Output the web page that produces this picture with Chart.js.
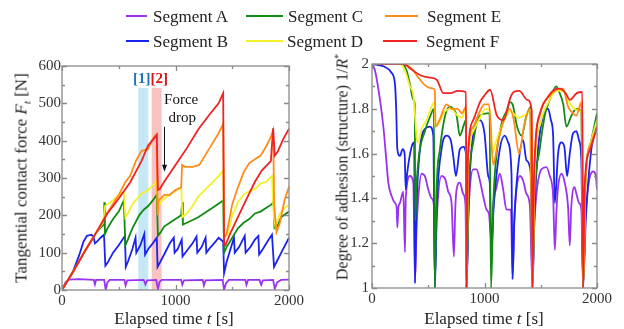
<!DOCTYPE html>
<html><head><meta charset="utf-8">
<script src="https://cdn.jsdelivr.net/npm/chart.js@4/dist/chart.umd.min.js"></script>
<style>
html,body{margin:0;padding:0;background:#fff;width:624px;height:329px;overflow:hidden;font-family:"Liberation Serif","Times New Roman",serif;color:#222}
#wrap{position:relative;width:624px;height:329px}
canvas{position:absolute;top:0}
#cL{left:0}
#cR{left:310px}
.lt{position:absolute;font-size:17px;line-height:17px;white-space:nowrap;transform:translateY(-50%)}
.ln{position:absolute;height:2px}
.at{position:absolute;font-size:17px;line-height:17px;white-space:nowrap;transform:translate(-50%,-50%)}
.rot{transform:translate(-50%,-50%) rotate(-90deg)}
sub,sup{line-height:0}
</style></head>
<body><div id="wrap">
<canvas id="cL" width="310" height="329"></canvas>
<canvas id="cR" width="314" height="329"></canvas>
<div class="at rot" style="left:21px;top:178px">Tangential contact force <i>F</i><sub style="font-size:11px"><i>t</i></sub> [N]</div>
<div class="at rot" style="left:342px;top:167px;font-size:16px">Degree of adhesion (structure) 1/<i>R</i><sup style="font-size:10px">*</sup></div>
<div class="at" style="left:174px;top:318px">Elapsed time <i>t</i> [s]</div>
<div class="at" style="left:484px;top:318px">Elapsed time <i>t</i> [s]</div>
</div>
<script>
// ---------- data ----------
const segmentNames = ['Segment A','Segment B','Segment C','Segment D','Segment E','Segment F'];
const segmentColors = ['#9a33ee','#1a22ee','#138a13','#f2f22a','#ff8c1a','#f02222'];
const xTicks = [0, 1000, 2000];
const forceTicks = [0, 100, 200, 300, 400, 500, 600];
const adhesionTicks = [1, 1.2, 1.4, 1.6, 1.8, 2];

// Tangential contact force F_t [N] vs time t [s]
const segA_force = [[0,0],[30,20],[60,28],[150,29],[280,27],[290,15],[300,27],[372,27],[385,0],[400,20],[420,27],[550,27],[560,12],[575,26],[720,27],[735,15],[750,26],[830,27],[845,3],[860,22],[880,27],[1050,27],[1060,14],[1075,26],[1240,27],[1250,12],[1265,26],[1415,27],[1428,0],[1445,18],[1470,27],[1615,27],[1625,14],[1640,27],[1740,27],[1755,14],[1770,26],[1860,27],[1875,3],[1895,20],[1930,27],[2000,28]];
const segB_force = [[0,0],[100,52],[150,92],[190,130],[220,145],[260,148],[280,140],[290,125],[310,130],[340,140],[370,148],[382,65],[400,72],[450,100],[500,120],[555,145],[562,62],[580,75],[620,110],[648,140],[655,100],[690,120],[725,150],[732,95],[760,110],[800,125],[835,140],[842,62],[860,72],[900,95],[950,125],[985,140],[992,100],[1020,110],[1055,135],[1062,90],[1100,105],[1150,125],[1185,143],[1192,100],[1230,115],[1265,140],[1272,100],[1310,115],[1340,125],[1380,140],[1420,130],[1428,45],[1450,75],[1490,115],[1515,140],[1522,100],[1560,115],[1610,145],[1618,100],[1660,115],[1700,135],[1730,145],[1737,95],[1770,110],[1810,130],[1850,148],[1868,62],[1890,75],[1940,105],[2000,140]];
const segC_force = [[0,0],[100,50],[200,103],[300,153],[350,170],[370,175],[373,235],[378,150],[400,165],[450,190],[500,210],[545,240],[558,120],[580,135],[620,165],[680,200],[720,215],[760,225],[800,240],[835,255],[845,145],[870,155],[900,170],[950,180],[1000,190],[1050,200],[1058,235],[1065,175],[1100,180],[1200,195],[1300,215],[1350,225],[1420,240],[1428,100],[1450,115],[1500,140],[1550,165],[1600,180],[1650,190],[1700,205],[1750,210],[1800,220],[1850,230],[1865,240],[1872,165],[1890,165],[1930,195],[2000,210]];
const segD_force = [[0,0],[100,50],[200,103],[300,153],[360,180],[380,225],[400,230],[450,240],[500,255],[545,262],[558,195],[580,205],[620,230],[700,258],[760,268],[800,280],[835,292],[845,220],[870,235],[900,245],[1000,265],[1050,275],[1062,195],[1100,205],[1150,225],[1200,250],[1300,280],[1380,305],[1420,320],[1428,140],[1460,150],[1500,200],[1550,235],[1600,255],[1650,265],[1700,270],[1750,285],[1800,290],[1850,305],[1865,200],[1880,170],[1920,205],[1960,220],[2000,228]];
const segE_force = [[0,0],[100,50],[200,103],[300,153],[400,207],[500,255],[560,290],[600,305],[650,345],[700,372],[760,378],[800,405],[835,418],[842,200],[850,240],[870,245],[900,255],[950,255],[1000,268],[1050,275],[1058,335],[1080,330],[1150,330],[1210,335],[1260,360],[1320,390],[1380,420],[1420,445],[1428,140],[1450,150],[1500,230],[1550,275],[1600,315],[1650,340],[1700,350],[1750,360],[1800,385],[1840,410],[1860,428],[1870,225],[1890,155],[1920,180],[1960,240],[2000,277]];
const segF_force = [[0,0],[100,50],[200,103],[300,153],[400,205],[500,245],[600,288],[700,345],[760,388],[800,402],[835,415],[845,268],[860,270],[900,290],[1000,335],[1100,380],[1200,430],[1300,470],[1380,500],[1420,527],[1428,125],[1440,120],[1480,150],[1550,195],[1620,240],[1700,290],[1760,320],[1840,345],[1860,433],[1875,360],[1900,370],[1950,405],[2000,432]];

// Degree of adhesion (structure) 1/R* vs time t [s]
const segA_adh = [[0,2],[27,1.97],[71,1.84],[101,1.72],[124,1.59],[145,1.47],[175,1.41],[204,1.38],[219,1.36],[225,1.27],[235,1.36],[249,1.38],[278,1.43],[293,1.16],[300,1.40],[337,1.50],[367,1.47],[382,1.03],[395,1.25],[411,1.40],[441,1.51],[470,1.50],[500,1.44],[530,1.40],[550,1.37],[559,1.04],[575,1.3],[618,1.50],[648,1.49],[678,1.43],[707,1.38],[728,1.14],[740,1.35],[752,1.44],[781,1.47],[811,1.42],[831,1.37],[840,1.01],[855,1.3],[900,1.53],[929,1.53],[959,1.48],[988,1.41],[1018,1.35],[1040,1.33],[1062,1.2],[1080,1.38],[1107,1.45],[1136,1.51],[1166,1.44],[1195,1.35],[1235,1.35],[1249,1.04],[1265,1.3],[1284,1.44],[1314,1.50],[1343,1.48],[1373,1.42],[1403,1.37],[1426,1.01],[1440,1.25],[1462,1.42],[1506,1.53],[1550,1.54],[1580,1.50],[1610,1.41],[1625,1.17],[1640,1.35],[1654,1.45],[1684,1.51],[1713,1.47],[1743,1.36],[1758,1.19],[1770,1.35],[1800,1.45],[1817,1.42],[1840,1.38],[1861,1.35],[1876,1.01],[1895,1.3],[1930,1.48],[1965,1.52],[1990,1.50],[2000,1.44]];
const segB_adh = [[0,2],[100,1.99],[175,1.96],[204,1.91],[215,1.80],[225,1.62],[249,1.59],[272,1.62],[290,1.60],[300,1.44],[310,1.50],[352,1.63],[375,1.65],[382,1.02],[395,1.35],[426,1.62],[470,1.71],[515,1.72],[545,1.68],[559,1.0],[575,1.35],[618,1.62],[663,1.68],[700,1.66],[722,1.59],[746,1.50],[781,1.62],[811,1.63],[835,1.6],[840,1.0],[860,1.4],[885,1.62],[929,1.74],[959,1.75],[1000,1.69],[1033,1.50],[1047,1.47],[1062,1.17],[1080,1.35],[1136,1.62],[1180,1.68],[1210,1.65],[1240,1.51],[1249,1.04],[1265,1.3],[1299,1.54],[1343,1.66],[1373,1.57],[1410,1.52],[1426,1.0],[1445,1.35],[1476,1.62],[1521,1.77],[1565,1.80],[1590,1.75],[1610,1.68],[1625,1.38],[1654,1.60],[1684,1.65],[1710,1.63],[1734,1.50],[1758,1.60],[1787,1.69],[1817,1.70],[1840,1.66],[1861,1.57],[1876,1.0],[1900,1.3],[1950,1.62],[2000,1.72]];
const segC_adh = [[0,2],[270,2],[308,1.97],[337,1.91],[367,1.84],[380,1.82],[385,1.3],[395,1.45],[420,1.6],[470,1.70],[520,1.77],[550,1.80],[558,1.0],[575,1.45],[604,1.62],[650,1.77],[693,1.81],[722,1.80],[752,1.77],[781,1.68],[811,1.72],[835,1.75],[840,1.0],[860,1.45],[900,1.65],[959,1.77],[1018,1.78],[1045,1.78],[1058,1.0],[1080,1.4],[1108,1.6],[1160,1.75],[1197,1.79],[1227,1.83],[1250,1.82],[1290,1.72],[1330,1.68],[1373,1.77],[1415,1.81],[1426,1.0],[1445,1.4],[1491,1.62],[1540,1.78],[1580,1.84],[1639,1.90],[1660,1.88],[1700,1.82],[1728,1.72],[1773,1.77],[1817,1.80],[1860,1.79],[1876,1.0],[1895,1.45],[1950,1.66],[2000,1.78]];
const segD_adh = [[0,2],[250,2],[293,1.97],[337,1.90],[367,1.86],[382,1.77],[400,1.66],[411,1.65],[441,1.71],[485,1.75],[530,1.81],[555,1.83],[562,1.72],[600,1.74],[650,1.79],[700,1.80],[760,1.77],[800,1.76],[835,1.80],[840,1.0],[855,1.55],[900,1.70],[960,1.76],[1010,1.80],[1050,1.79],[1070,1.6],[1100,1.65],[1160,1.73],[1230,1.79],[1300,1.76],[1380,1.78],[1420,1.80],[1426,1.0],[1445,1.5],[1500,1.74],[1580,1.84],[1640,1.88],[1700,1.88],[1750,1.83],[1800,1.80],[1850,1.79],[1870,1.78],[1876,1.0],[1900,1.5],[1950,1.66],[2000,1.75]];
const segE_adh = [[0,2],[280,2],[350,1.98],[427,1.93],[486,1.90],[545,1.89],[558,1.88],[565,1.72],[600,1.75],[663,1.82],[710,1.80],[760,1.80],[800,1.78],[835,1.81],[840,1.0],[855,1.6],[900,1.72],[960,1.79],[1000,1.82],[1040,1.82],[1077,1.55],[1120,1.65],[1166,1.74],[1225,1.80],[1260,1.75],[1308,1.60],[1350,1.72],[1403,1.80],[1426,1.0],[1445,1.55],[1491,1.77],[1580,1.86],[1640,1.885],[1698,1.89],[1743,1.81],[1787,1.78],[1817,1.77],[1861,1.83],[1876,1.0],[1900,1.5],[1950,1.65],[2000,1.72]];
const segF_adh = [[0,2],[280,2],[340,1.98],[430,1.95],[500,1.94],[575,1.93],[634,1.87],[700,1.87],[760,1.88],[835,1.875],[840,1.0],[850,1.55],[900,1.75],[960,1.83],[1000,1.86],[1050,1.885],[1110,1.77],[1170,1.75],[1230,1.85],[1260,1.875],[1310,1.88],[1380,1.84],[1420,1.79],[1426,1.0],[1440,1.5],[1500,1.79],[1560,1.85],[1620,1.885],[1670,1.89],[1720,1.87],[1760,1.84],[1820,1.87],[1870,1.875],[1876,1.0],[1890,1.45],[1940,1.62],[2000,1.72]];

const forceSeries = [segA_force, segB_force, segC_force, segD_force, segE_force, segF_force];
const adhesionSeries = [segA_adh, segB_adh, segC_adh, segD_adh, segE_adh, segF_adh];

// annotation positions (in data units)
const band1 = [672, 760], band2 = [790, 878], bandTop = 541;
const forceDropArrow = {t: 901, from: 437, to: 317};

// ---------- legend (HTML) ----------
const legendSlots = [ // [lineX1, lineX2, textX, y]
  [126,147,153,16],[126,149,153,41],[246,283,288,16],[246,283,287,41],[385,418,427,16],[383,417,426,41]];
const wrap = document.getElementById('wrap');
segmentNames.forEach((n,i)=>{
  const s = legendSlots[i];
  const l = document.createElement('div'); l.className='ln';
  l.style.cssText = `left:${s[0]}px;width:${s[1]-s[0]}px;top:${s[3]-1}px;background:${segmentColors[i]}`;
  wrap.appendChild(l);
  const t = document.createElement('div'); t.className='lt'; t.textContent=n;
  t.style.left = s[2]+'px'; t.style.top = s[3]+'px';
  wrap.appendChild(t);
});

// ---------- plugins ----------
const frameTicks = {
  id:'frameTicks',
  afterDraw(chart){
    const {ctx, chartArea:a, scales:{x,y}} = chart;
    ctx.save();
    ctx.strokeStyle = '#8a8a8a'; ctx.lineWidth = 1.3;
    ctx.strokeRect(a.left, a.top, a.right-a.left, a.bottom-a.top);
    ctx.beginPath();
    x.ticks.forEach(t=>{
      const p = Math.round(x.getPixelForValue(t.value))+0.5; const L = t.label ? 5 : 3;
      ctx.moveTo(p, a.bottom); ctx.lineTo(p, a.bottom-L);
      ctx.moveTo(p, a.top); ctx.lineTo(p, a.top+L);
    });
    y.ticks.forEach(t=>{
      const p = Math.round(y.getPixelForValue(t.value))+0.5; const L = t.label ? 5 : 3;
      ctx.moveTo(a.left, p); ctx.lineTo(a.left+L, p);
      ctx.moveTo(a.right, p); ctx.lineTo(a.right-L, p);
    });
    ctx.stroke();
    ctx.restore();
  }
};
const annot = {
  id:'annot',
  beforeDatasetsDraw(chart){
    const {ctx, chartArea:a, scales:{x,y}} = chart;
    ctx.save();
    const top = y.getPixelForValue(bandTop);
    ctx.fillStyle = '#c4e8f6';
    ctx.fillRect(x.getPixelForValue(band1[0]), top, x.getPixelForValue(band1[1])-x.getPixelForValue(band1[0]), a.bottom-top);
    ctx.fillStyle = '#f9c2c2';
    ctx.fillRect(x.getPixelForValue(band2[0]), top, x.getPixelForValue(band2[1])-x.getPixelForValue(band2[0]), a.bottom-top);
    ctx.restore();
  },
  afterDatasetsDraw(chart){
    const {ctx, scales:{x,y}} = chart;
    ctx.save();
    const mid = x.getPixelForValue((band1[1]+band2[0])/2);
    const ly = y.getPixelForValue(566);
    ctx.font = 'bold 15px "Liberation Serif", serif';
    ctx.textBaseline = 'middle';
    ctx.textAlign = 'right'; ctx.fillStyle = '#1e73be'; ctx.fillText('[1]', mid+0.5, ly);
    ctx.textAlign = 'left'; ctx.fillStyle = '#e01010'; ctx.fillText('[2]', mid+0.5, ly);
    ctx.font = '15px "Liberation Serif", serif';
    ctx.fillStyle = '#111'; ctx.textAlign = 'center';
    ctx.fillText('Force', x.getPixelForValue(1050), y.getPixelForValue(508));
    ctx.fillText('drop', x.getPixelForValue(1060), y.getPixelForValue(461));
    const ax = Math.round(x.getPixelForValue(forceDropArrow.t))+0.5;
    const y1 = y.getPixelForValue(forceDropArrow.from), y2 = y.getPixelForValue(forceDropArrow.to);
    ctx.strokeStyle = '#111'; ctx.lineWidth = 1;
    ctx.beginPath(); ctx.moveTo(ax, y1); ctx.lineTo(ax, y2-5); ctx.stroke();
    ctx.beginPath(); ctx.moveTo(ax, y2); ctx.lineTo(ax-2.5, y2-7); ctx.lineTo(ax+2.5, y2-7); ctx.closePath(); ctx.fill();
    ctx.restore();
  }
};

const tickFont = {family:'"Liberation Serif", "Times New Roman", serif', size:15};
function makeChart(id, series, yMin, yMax, yStep, yLabelTicks, pad, yW, xH, yPad, smooth, plugins){
  return new Chart(document.getElementById(id), {
    type:'line',
    data:{datasets: series.map((s,i)=>({
      label: segmentNames[i],
      data: s.map(p=>({x:p[0], y:p[1]})),
      borderColor: segmentColors[i], borderWidth: 1.8,
      pointRadius:0, tension: smooth ? 0.4 : 0, cubicInterpolationMode: smooth ? 'monotone' : 'default',
      fill:false, order: 6-i
    }))},
    options:{
      responsive:false, animation:false, events:[],
      layout:{padding:pad},
      plugins:{legend:{display:false}, tooltip:{enabled:false}},
      scales:{
        x:{type:'linear', min:0, max:2000,
           grid:{display:false, drawTicks:false}, border:{display:false},
           afterFit:s=>{s.height = xH;},
           ticks:{stepSize:500, autoSkip:false, maxRotation:0, padding:2, color:'#333', font:tickFont,
             callback:v=> xTicks.includes(v) ? String(v) : ''}},
        y:{type:'linear', min:yMin, max:yMax,
           grid:{display:false, drawTicks:false}, border:{display:false},
           afterFit:s=>{s.width = yW;},
           ticks:{stepSize:yStep, autoSkip:false, padding:yPad, color:'#333', font:tickFont,
             callback:v=>{ const m = yLabelTicks.find(t=>Math.abs(t-v)<1e-6); return m===undefined ? '' : String(m); }}}
      }
    },
    plugins: plugins
  });
}
makeChart('cL', forceSeries, 0, 600, 50, forceTicks, {top:66,right:21,left:0,bottom:0}, 62, 39, 1, false, [annot, frameTicks]);
makeChart('cR', adhesionSeries, 1, 2, 0.1, adhesionTicks, {top:64,right:27,left:0,bottom:0}, 62, 41, 3, true, [frameTicks]);
</script>
</body></html>
